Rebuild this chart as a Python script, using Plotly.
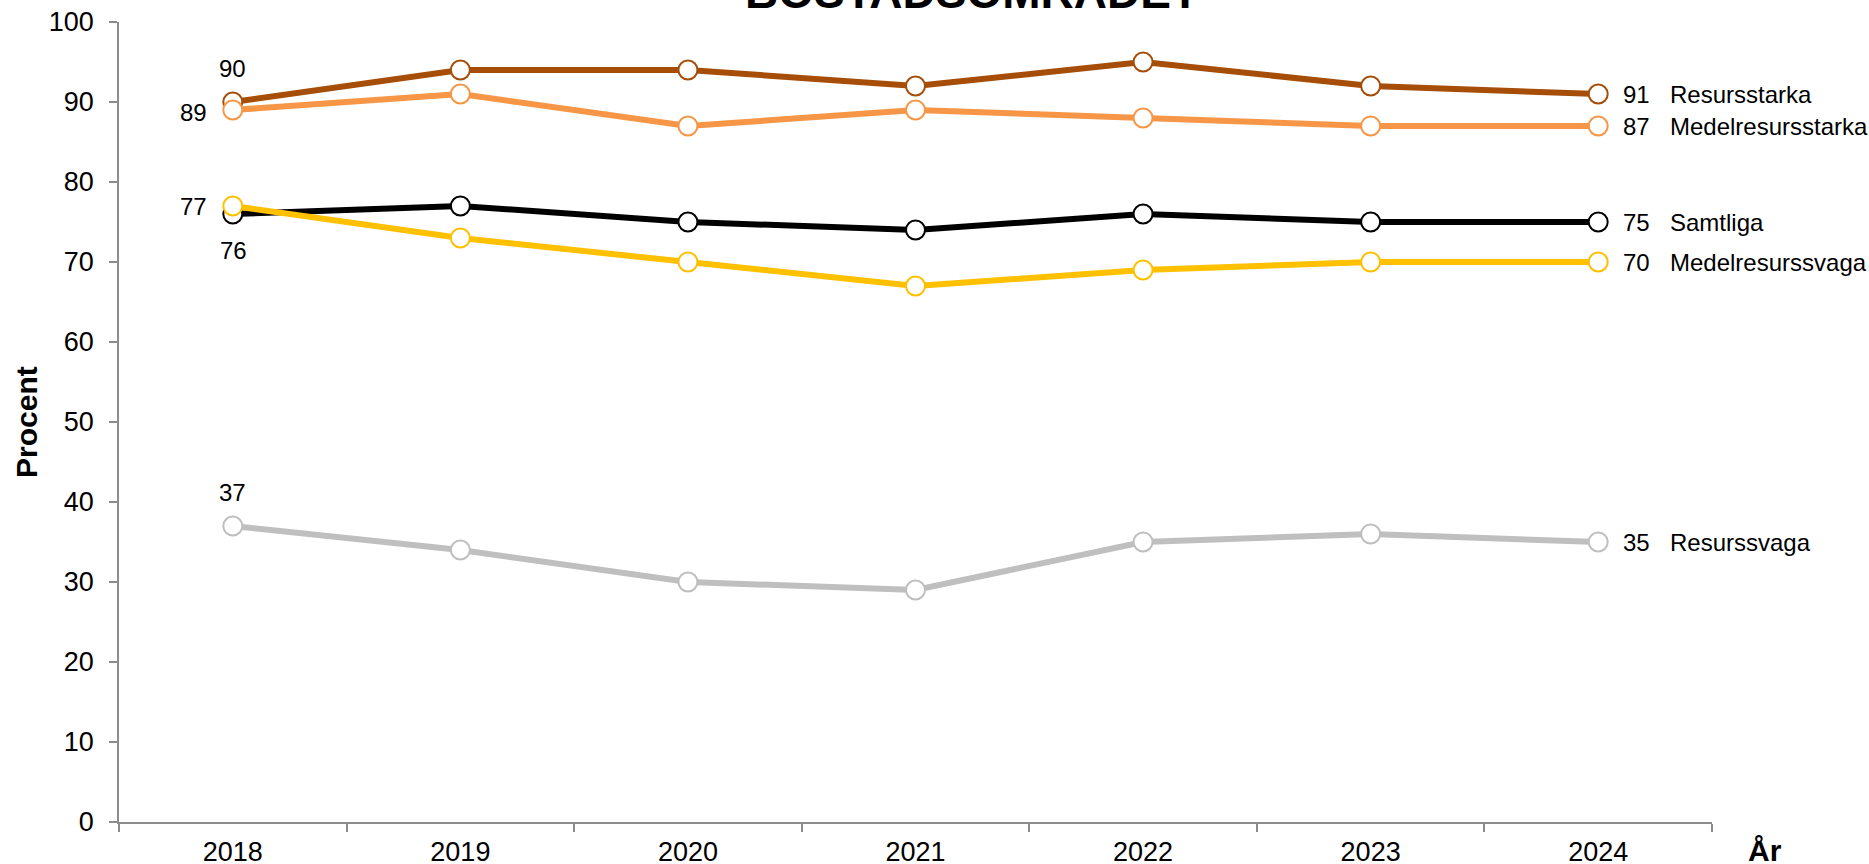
import plotly.graph_objects as go

# Survey years and share (percent) per group
years = ["2018", "2019", "2020", "2021", "2022", "2023", "2024"]

resursstarka = [90, 94, 94, 92, 95, 92, 91]
medelresursstarka = [89, 91, 87, 89, 88, 87, 87]
samtliga = [76, 77, 75, 74, 76, 75, 75]
medelresurssvaga = [77, 73, 70, 67, 69, 70, 70]
resurssvaga = [37, 34, 30, 29, 35, 36, 35]

series_names = ["Resursstarka", "Medelresursstarka", "Samtliga",
                "Medelresurssvaga", "Resurssvaga"]
series_values = [resursstarka, medelresursstarka, samtliga,
                 medelresurssvaga, resurssvaga]
series_colors = ["#A64D08", "#F79646", "#000000", "#FFC000", "#BFBFBF"]

y_ticks = [0, 10, 20, 30, 40, 50, 60, 70, 80, 90, 100]

FONT = "Arial, Liberation Sans, sans-serif"
AXIS_GREY = "#8C8C8C"

fig = go.Figure()

for name, vals, col in zip(series_names, series_values, series_colors):
    fig.add_trace(go.Scatter(
        x=years, y=vals, name=name, mode="lines+markers",
        line=dict(color=col, width=6),
        marker=dict(symbol="circle", size=19, color="white",
                    line=dict(color=col, width=2)),
        showlegend=False, cliponaxis=False,
    ))

annotations = []
first_idx = 0
last_idx = len(years) - 1

# End-of-line value and group name
for name, vals in zip(series_names, series_values):
    annotations.append(dict(x=last_idx, y=vals[-1], xref="x", yref="y",
                            text=str(vals[-1]), showarrow=False,
                            xanchor="left", yanchor="middle", xshift=23,
                            font=dict(size=24, color="black", family=FONT)))
    annotations.append(dict(x=last_idx, y=vals[-1], xref="x", yref="y",
                            text=name, showarrow=False,
                            xanchor="left", yanchor="middle", xshift=70,
                            font=dict(size=24, color="black", family=FONT)))

# First-year values, placed around the markers to avoid overlap
first_offsets = {
    "Resursstarka": dict(xanchor="center", xshift=0, yshift=34),
    "Medelresursstarka": dict(xanchor="right", xshift=-24, yshift=-2),
    "Samtliga": dict(xanchor="center", xshift=1, yshift=-36),
    "Medelresurssvaga": dict(xanchor="right", xshift=-24, yshift=0),
    "Resurssvaga": dict(xanchor="center", xshift=0, yshift=34),
}
for name, vals in zip(series_names, series_values):
    off = first_offsets[name]
    annotations.append(dict(x=first_idx, y=vals[0], xref="x", yref="y",
                            text=str(vals[0]), showarrow=False,
                            yanchor="middle",
                            font=dict(size=24, color="black", family=FONT),
                            **off))

# Title (last line, partly above the page edge)
annotations.append(dict(x=(972 - 119) / 1593, y=1.0, xref="paper", yref="paper",
                        text="<b>BOSTADSOMRÅDET</b>", showarrow=False,
                        xanchor="center", yanchor="bottom", yshift=2,
                        font=dict(size=46, color="black", family=FONT)))

# Axis titles
annotations.append(dict(x=-0.0584, y=0.5, xref="paper", yref="paper",
                        text="<b>Procent</b>", showarrow=False, textangle=-90,
                        xanchor="center", yanchor="middle",
                        font=dict(size=30, color="black", family=FONT)))
annotations.append(dict(x=1.0, y=0.0, xref="paper", yref="paper",
                        text="<b>År</b>", showarrow=False,
                        xanchor="left", yanchor="top", xshift=34, yshift=-10,
                        font=dict(size=30, color="black", family=FONT)))

fig.update_layout(
    width=1869, height=864,
    margin=dict(l=119, r=157, t=22, b=42, pad=0, autoexpand=False),
    paper_bgcolor="white", plot_bgcolor="white",
    font=dict(family=FONT, color="black"),
    annotations=annotations,
    xaxis=dict(
        type="category", categoryorder="array", categoryarray=years,
        range=[-0.5, len(years) - 0.5], automargin=False,
        showgrid=False, zeroline=False,
        showline=True, linecolor=AXIS_GREY, linewidth=1.5,
        ticks="outside", tickson="boundaries", ticklen=8,
        tickcolor=AXIS_GREY, tickwidth=1.5,
        ticklabelstandoff=5,
        tickfont=dict(size=27, color="black", family=FONT),
    ),
    yaxis=dict(
        range=[0, 100], tickvals=y_ticks, automargin=False,
        showgrid=False, zeroline=False,
        showline=True, linecolor=AXIS_GREY, linewidth=1.5,
        ticks="outside", ticklen=8, tickcolor=AXIS_GREY, tickwidth=1.5,
        ticklabelstandoff=10,
        tickfont=dict(size=27, color="black", family=FONT),
    ),
)

fig.write_html("out.html")
